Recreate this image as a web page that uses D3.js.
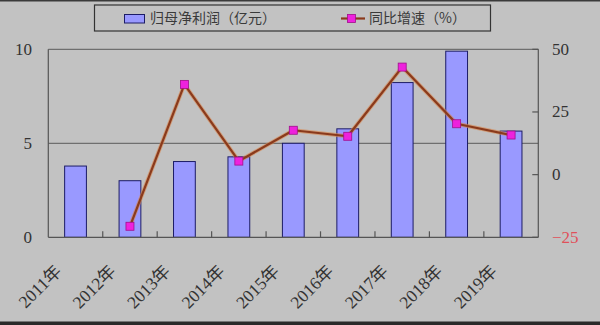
<!DOCTYPE html>
<html><head><meta charset="utf-8">
<script src="https://cdn.jsdelivr.net/npm/d3@7"></script>
<style>
html,body{margin:0;padding:0;background:#c3c3c3;}
svg{display:block;}
</style></head>
<body>
<script>
const categories = ['2011年','2012年','2013年','2014年','2015年','2016年','2017年','2018年','2019年'];
const profit = [3.79, 3.01, 4.03, 4.28, 5.0, 5.77, 8.23, 9.9, 5.65];
const growth = [null, -20.6, 36.0, 5.4, 17.7, 15.3, 42.9, 20.3, 15.8];
const leftTicks = [0, 5, 10];
const rightTicks = [-25, 0, 25, 50];
const legendLabels = ['归母净利润（亿元）', '同比增速（%）'];

const W = 600, H = 325;
const m = {left: 48.3, right: 538.3, top: 49.3, bottom: 237.3};
const svg = d3.select('body').append('svg').attr('width', W).attr('height', H);
svg.append('rect').attr('width', W).attr('height', H).attr('fill', '#c2c2c2');
// frame edges
svg.append('rect').attr('x',0).attr('y',0).attr('width',W).attr('height',1.5).attr('fill','#3a3a3a');
svg.append('rect').attr('x',0).attr('y',321.5).attr('width',W).attr('height',3.5).attr('fill','#2a2a2a');

const x = d3.scaleBand().domain(categories).range([m.left, m.right]).paddingInner(0).paddingOuter(0);
const yL = d3.scaleLinear().domain([0, 10]).range([m.bottom, m.top]);
const yR = d3.scaleLinear().domain([-25, 50]).range([m.bottom, m.top]);

const serif = '"Liberation Serif","Times New Roman","Noto Sans CJK SC",serif';
const cjk = '"Noto Sans CJK SC","Noto Sans CJK JP",sans-serif';

// gridlines (left axis)
svg.append('g').selectAll('line').data(leftTicks.filter(d => d > 0)).join('line')
  .attr('x1', m.left).attr('x2', m.right)
  .attr('y1', d => yL(d)).attr('y2', d => yL(d))
  .attr('stroke', '#5a5a5a').attr('stroke-width', 1);

// bars
const bw = x.bandwidth() * 0.4;
svg.append('g').selectAll('rect').data(profit).join('rect')
  .attr('x', (d, i) => x(categories[i]) + x.bandwidth() / 2 - bw / 2)
  .attr('y', d => yL(d))
  .attr('width', bw)
  .attr('height', d => yL(0) - yL(d))
  .attr('fill', '#9999ff').attr('stroke', '#1c1c66').attr('stroke-width', 1);

// axes lines
const axG = svg.append('g').attr('stroke', '#555').attr('stroke-width', 1.2);
axG.append('line').attr('x1', m.left).attr('x2', m.left).attr('y1', m.top).attr('y2', m.bottom);
axG.append('line').attr('x1', m.right).attr('x2', m.right).attr('y1', m.top).attr('y2', m.bottom);
axG.append('line').attr('x1', m.left).attr('x2', m.right).attr('y1', m.bottom).attr('y2', m.bottom);

// bottom ticks (inside, at category boundaries)
svg.append('g').selectAll('line').data(categories.slice(1)).join('line')
  .attr('x1', d => x(d)).attr('x2', d => x(d))
  .attr('y1', m.bottom).attr('y2', m.bottom - 6)
  .attr('stroke', '#555').attr('stroke-width', 1.2);

// right ticks (inside)
svg.append('g').selectAll('line').data(rightTicks).join('line')
  .attr('x1', m.right).attr('x2', m.right - 6)
  .attr('y1', d => yR(d)).attr('y2', d => yR(d))
  .attr('stroke', '#555').attr('stroke-width', 1.2);

// left labels
svg.append('g').selectAll('text').data(leftTicks).join('text')
  .attr('x', 32).attr('y', d => yL(d) + 1.5)
  .attr('text-anchor', 'end').attr('dominant-baseline', 'middle')
  .attr('font-family', serif).attr('font-size', 17).attr('fill', '#333')
  .text(d => d);

// right labels
svg.append('g').selectAll('text').data(rightTicks).join('text')
  .attr('x', 552).attr('y', d => yR(d) + 1.5)
  .attr('text-anchor', 'start').attr('dominant-baseline', 'middle')
  .attr('font-family', serif).attr('font-size', 17)
  .attr('fill', d => d < 0 ? '#e0505a' : '#333')
  .text(d => d < 0 ? '\u2212' + Math.abs(d) : d);

// category labels
svg.append('g').selectAll('text').data(categories).join('text')
  .attr('transform', d => `translate(${x(d) + x.bandwidth() / 2 - 13},${m.bottom + 35}) rotate(-45)`)
  .attr('text-anchor', 'end')
  .attr('font-family', serif).attr('font-size', 17.5).attr('fill', '#333')
  .text(d => d);

// line
const pts = growth.map((v, i) => ({v, c: categories[i]})).filter(p => p.v !== null);
const line = d3.line().x(p => x(p.c) + x.bandwidth() / 2).y(p => yR(p.v));
svg.append('path').datum(pts).attr('d', line)
  .attr('fill', 'none').attr('stroke', '#d9844a').attr('stroke-width', 4).attr('stroke-linejoin', 'round').attr('opacity', 0.6);
svg.append('path').datum(pts).attr('d', line)
  .attr('fill', 'none').attr('stroke', '#8a3a1c').attr('stroke-width', 2.2).attr('stroke-linejoin', 'round');
const ms = 8;
svg.append('g').selectAll('rect').data(pts).join('rect')
  .attr('x', p => x(p.c) + x.bandwidth() / 2 - ms / 2)
  .attr('y', p => yR(p.v) - ms / 2)
  .attr('width', ms).attr('height', ms)
  .attr('fill', '#ee22dd').attr('stroke', '#a0108a').attr('stroke-width', 0.8);

// legend
const lg = svg.append('g');
lg.append('rect').attr('x', 94.5).attr('y', 5).attr('width', 396).attr('height', 26)
  .attr('fill', '#c2c2c2').attr('stroke', '#333').attr('stroke-width', 1.2);
lg.append('rect').attr('x', 124.5).attr('y', 14.5).attr('width', 20).attr('height', 8.5)
  .attr('fill', '#9999ff').attr('stroke', '#1c1c66').attr('stroke-width', 1);
lg.append('text').attr('x', 150).attr('y', 19).attr('dominant-baseline', 'middle')
  .attr('font-family', cjk).attr('font-size', 14).attr('fill', '#3a3a3a').text(legendLabels[0]);
lg.append('line').attr('x1', 341).attr('x2', 365).attr('y1', 18.5).attr('y2', 18.5)
  .attr('stroke', '#8a3a1c').attr('stroke-width', 2.2);
lg.append('rect').attr('x', 351.5 - ms / 2).attr('y', 18.5 - ms / 2).attr('width', ms).attr('height', ms)
  .attr('fill', '#ee22dd').attr('stroke', '#a0108a').attr('stroke-width', 0.8);
lg.append('text').attr('x', 369).attr('y', 19).attr('dominant-baseline', 'middle')
  .attr('font-family', cjk).attr('font-size', 14).attr('fill', '#3a3a3a').text(legendLabels[1]);
</script>
</body></html>
